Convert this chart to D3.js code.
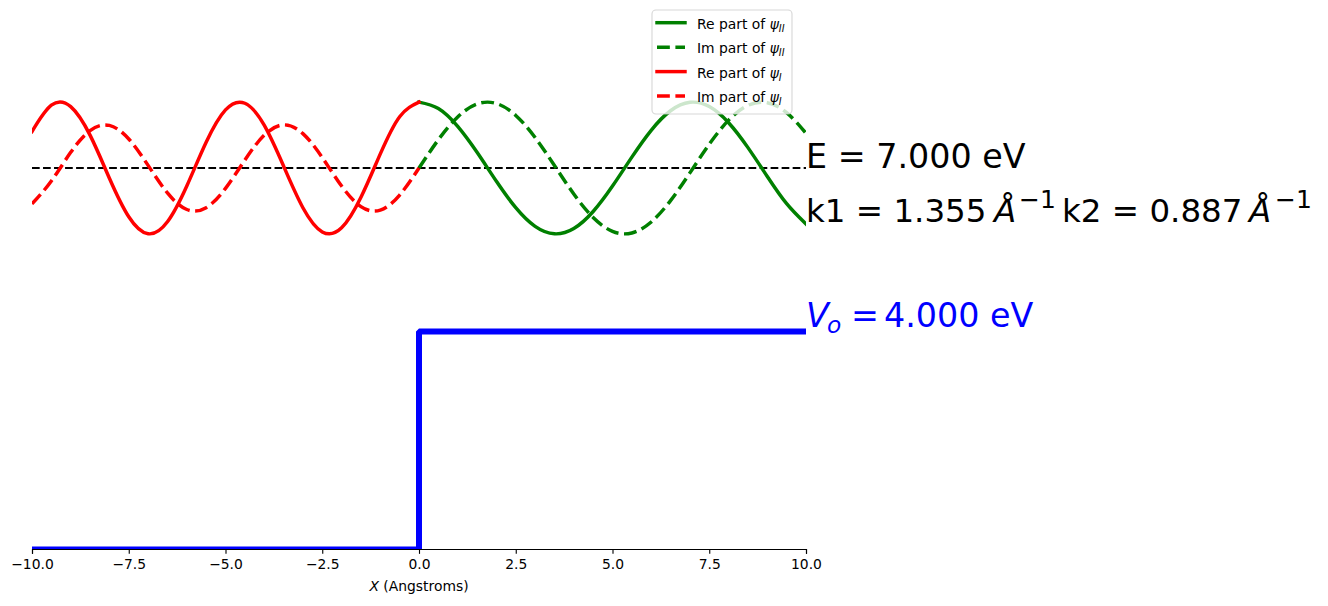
<!DOCTYPE html>
<html><head><meta charset="utf-8">
<script src="https://cdn.jsdelivr.net/npm/d3@7"></script>
<style>
body{margin:0;background:#fff}
svg{display:block}
text{font-family:"DejaVu Sans",sans-serif}
</style>
</head><body>
<script>
// ---- values ----
const energy = 7.0;          // eV
const barrier = 4.0;         // eV (V_o)
const k1 = 1.355, k2 = 0.887; // 1/Angstrom
const xTicks = [-10, -7.5, -5, -2.5, 0, 2.5, 5, 7.5, 10];

const xRegionI = [-10,-9.5,-9,-8.5,-8,-7.5,-7,-6.5,-6,-5.5,-5,-4.5,-4,-3.5,-3,-2.5,-2,-1.5,-1,-0.5,0];
const rePsiI = [0.6696,1.1525,1.1263,0.6027,-0.1872,-0.8944,-1.2065,-0.9857,-0.3294,0.4724,1.0655,1.1879,0.7857,0.0364,-0.7290,-1.1723,-1.0979,-0.5385,0.2588,0.9417,1.2087];
const imPsiI = [-0.6588,-0.2385,0.2872,0.6860,0.7817,0.5322,0.0476,-0.4580,-0.7614,-0.7284,-0.3737,0.1461,0.6013,0.7909,0.6312,0.1926,-0.3310,-0.7085,-0.7729,-0.4960,0];

const xRegionII = [0,0.5,1,1.5,2,2.5,3,3.5,4,4.5,5,5.5,6,6.5,7,7.5,8,8.5,9,9.5,10];
const rePsiII = [1.2087,1.0918,0.7636,0.2877,-0.2439,-0.7283,-1.0718,-1.2079,-1.1102,-0.7979,-0.3310,0.1999,0.6920,1.0503,1.2054,1.1272,0.8309,0.3739,-0.1555,-0.6549,-1.0274];
const imPsiII = [0,0.5187,0.9370,1.1740,1.1838,0.9647,0.5588,0.0448,-0.4778,-0.9080,-1.1625,-1.1921,-0.9910,-0.5982,-0.0896,0.4363,0.8778,1.1494,1.1987,1.0159,0.6367];

const potentialX = [-10, 0, 0, 10];
const potentialV = [0, 0, barrier, barrier];

const legendLabels = ["Re part of ", "Im part of ", "Re part of ", "Im part of "];
const legendSubs = ["II", "II", "I", "I"];
const legendColors = ["green", "green", "red", "red"];
const legendDashed = [false, true, false, true];

// ---- drawing ----
const W = 1328, H = 606;
const svg = d3.select("body").append("svg").attr("width", W).attr("height", H);

const x = d3.scaleLinear().domain([-10, 10]).range([32, 806]);
const y = d3.scaleLinear().domain([0, 10]).range([549.5, 4.5]);

svg.append("defs").append("clipPath").attr("id", "clip")
  .append("rect").attr("x", x(-10)).attr("y", 0).attr("width", x(10) - x(-10)).attr("height", y(0));

const plot = svg.append("g").attr("clip-path", "url(#clip)");
const line = d3.line().x(d => x(d[0])).y(d => y(d[1])).curve(d3.curveNatural);
const lw = 3.47;
const dash = `${3.7*lw},${1.6*lw}`;

// energy level
plot.append("path")
  .attr("d", d3.line()([[x(-10), y(energy)], [x(10), y(energy)]]))
  .attr("fill", "none").attr("stroke", "black").attr("stroke-width", 2.08)
  .attr("stroke-dasharray", `${3.7*2.08},${1.6*2.08}`);

const series = [
  {xs: xRegionII, ys: rePsiII, color: "green", dashed: false},
  {xs: xRegionII, ys: imPsiII, color: "green", dashed: true},
  {xs: xRegionI, ys: rePsiI, color: "red", dashed: false},
  {xs: xRegionI, ys: imPsiI, color: "red", dashed: true}
];
series.forEach(s => {
  plot.append("path")
    .datum(s.xs.map((v, i) => [v, energy + s.ys[i]]))
    .attr("d", line)
    .attr("fill", "none").attr("stroke", s.color).attr("stroke-width", lw)
    .attr("stroke-linecap", s.dashed ? "butt" : "square")
    .attr("stroke-linejoin", "round")
    .attr("stroke-dasharray", s.dashed ? dash : null);
});

// potential step
plot.append("path")
  .datum(potentialX.map((v, i) => [v, potentialV[i]]))
  .attr("d", d3.line().x(d => x(d[0])).y(d => y(d[1])))
  .attr("fill", "none").attr("stroke", "blue").attr("stroke-width", 6)
  .attr("stroke-linejoin", "bevel");

// x axis
const axis = d3.axisBottom(x).tickValues(xTicks).tickFormat(d3.format(".1f"))
  .tickSizeOuter(0).tickSize(4.86).tickPadding(4.86);
const gx = svg.append("g").attr("transform", `translate(0,${y(0) - 0.5})`).call(axis);
gx.select(".domain").attr("stroke", "black").attr("stroke-width", 1.11);
gx.selectAll(".tick line").attr("stroke", "black").attr("stroke-width", 1.11);
gx.selectAll(".tick text").attr("fill", "black").style("font-size", "13.89px")
  .style("font-family", "DejaVu Sans");

const xl = svg.append("text").attr("x", x(0)).attr("y", 590.5).attr("text-anchor", "middle")
  .style("font-size", "13.89px");
xl.append("tspan").style("font-style", "italic").text("X");
xl.append("tspan").text(" (Angstroms)");

// annotations
const big = 33.33;
svg.append("text").attr("x", x(10)).attr("y", 167.5).style("font-size", big + "px")
  .text(`E = ${energy.toFixed(3)} eV`);

const kt = svg.append("text").attr("y", 221.5).style("font-size", "32.5px");
kt.append("tspan").attr("x", 806).text(`k1 = ${k1.toFixed(3)}`);
kt.append("tspan").attr("x", 994).style("font-style", "italic").text("Å");
kt.append("tspan").attr("x", 1019).attr("dy", -14).style("font-size", "25px").text("−1");
kt.append("tspan").attr("x", 1062).attr("dy", 14).text(`k2 = ${k2.toFixed(3)}`);
kt.append("tspan").attr("x", 1249).style("font-style", "italic").text("Å");
kt.append("tspan").attr("x", 1275).attr("dy", -14).style("font-size", "25px").text("−1");

const vt = svg.append("text").attr("y", 326.5).attr("fill", "blue").style("font-size", big + "px");
vt.append("tspan").attr("x", 806).style("font-style", "italic").text("V");
vt.append("tspan").attr("x", 827).attr("dy", 6.4).style("font-style", "italic").style("font-size", "23.3px").text("o");
vt.append("tspan").attr("x", 851).attr("dy", -6.4).text("=");
vt.append("tspan").attr("x", 884).text(barrier.toFixed(3));
vt.append("tspan").attr("x", 990).text("eV");

// legend
const lg = svg.append("g");
lg.append("rect").attr("x", 652).attr("y", 10).attr("width", 140).attr("height", 104)
  .attr("rx", 4).attr("fill", "white").attr("fill-opacity", 0.8)
  .attr("stroke", "#cccccc").attr("stroke-opacity", 0.8).attr("stroke-width", 1.11);
legendLabels.forEach((lab, i) => {
  const base = 29 + i * 24.45;
  lg.append("line").attr("x1", 657).attr("x2", 685).attr("y1", base - 6.3).attr("y2", base - 6.3)
    .attr("stroke", legendColors[i]).attr("stroke-width", lw)
    .attr("stroke-linecap", legendDashed[i] ? "butt" : "square")
    .attr("stroke-dasharray", legendDashed[i] ? dash : null);
  const t = lg.append("text").attr("x", 697).attr("y", base).style("font-size", "13.89px").attr("fill", "black");
  t.append("tspan").text(lab);
  t.append("tspan").style("font-style", "italic").text("ψ");
  t.append("tspan").attr("dy", 2.6).style("font-style", "italic").style("font-size", "9.7px").text(legendSubs[i]);
});
</script>
</body></html>
